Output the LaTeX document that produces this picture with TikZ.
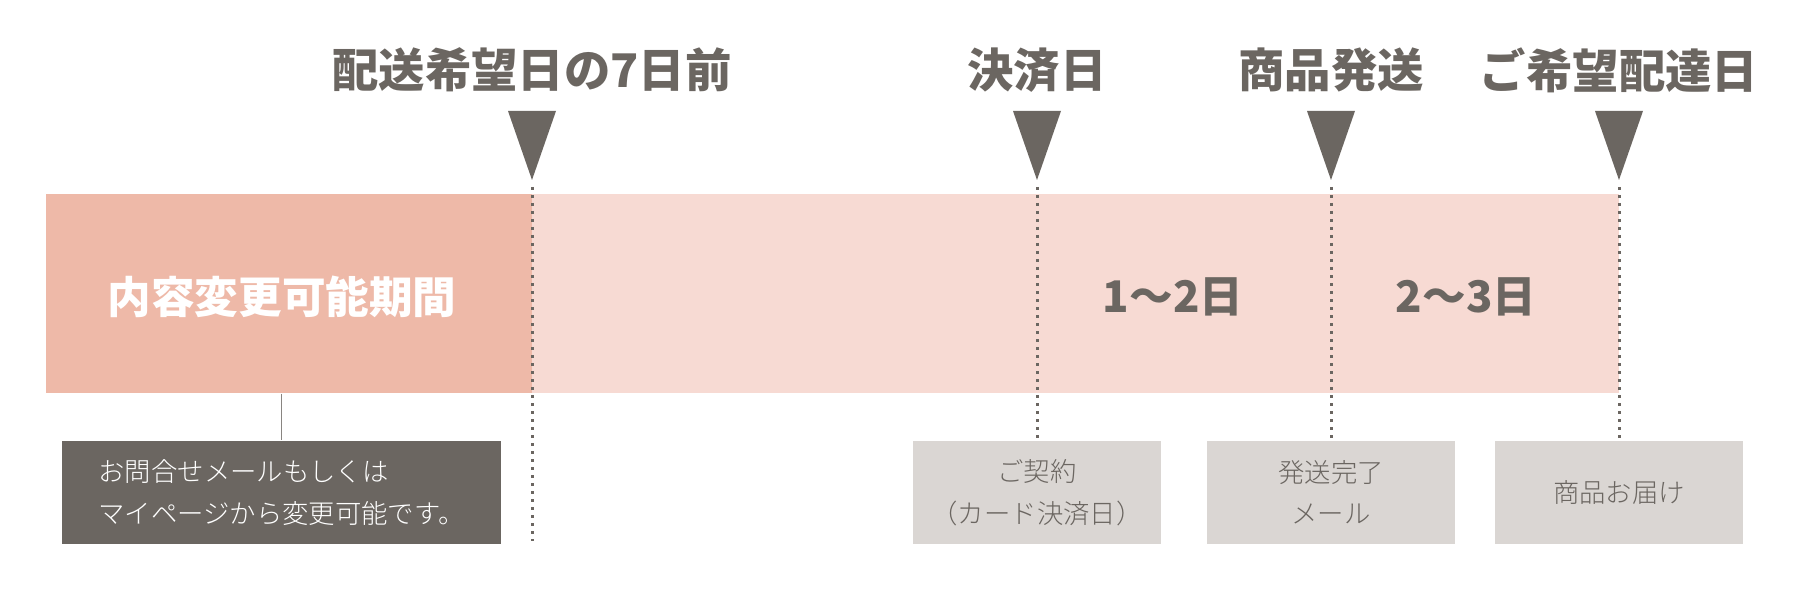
\documentclass[tikz,border=0pt]{standalone}
\usepackage{fontspec}
\usepackage{tikz}
\usetikzlibrary{positioning}
\newfontfamily\cjk{Noto Sans CJK JP}
\newfontfamily\cjklight{Noto Sans CJK JP Light}
\definecolor{ink}{HTML}{6B6661}
\definecolor{salmon}{HTML}{EEB9A8}
\definecolor{blush}{HTML}{F7DAD3}
\definecolor{stone}{HTML}{DAD6D3}

\begin{document}
\begin{tikzpicture}[font=\cjk, inner sep=0pt, node distance=0.43cm]
  \tikzstyle{title}=[text=ink, font=\cjk\bfseries\fontsize{13.2}{15}\selectfont]
  \tikzstyle{days}=[text=ink, font=\cjk\bfseries\fontsize{12.4}{14}\selectfont]
  \tikzstyle{period}=[text=white, font=\cjk\bfseries\fontsize{12.4}{14}\selectfont]
  \tikzstyle{memo}=[fill=stone, text=ink, minimum width=2.48cm, minimum height=1.03cm,
                    align=center, font=\cjklight\fontsize{7.5}{11.8}\selectfont]
  \tikzstyle{note}=[memo, fill=ink, text=white, minimum width=4.39cm, align=left]
  \tikzstyle{tri}=[fill=ink]
  \tikzstyle{dots}=[ink, line width=0.03cm, dash pattern=on 0.03cm off 0.05cm]

  \useasboundingbox (0,0) rectangle (18,6);

  \node[fill=blush, minimum width=10.87cm, minimum height=1.99cm] (wait) at (10.755,3.065) {};
  \node[fill=salmon, minimum width=4.86cm, minimum height=1.99cm] (change) at (2.89,3.065) {};
  \node[period] (ptext) at (2.82,3.03) {内容変更可能期間};
  \node[days]   (d12)   at (11.73,3.03) {1〜2日};
  \node[days]   (d23)   at (14.66,3.03) {2〜3日};

  % markers
  \coordinate (t1) at (5.32,4.20);
  \coordinate (t2) at (10.37,4.20);
  \coordinate (t3) at (13.31,4.20);
  \coordinate (t4) at (16.19,4.20);
  \fill[tri] (t1) -- ++(-0.24,0.69) -- ++(0.48,0) -- cycle;
  \fill[tri] (t2) -- ++(-0.24,0.69) -- ++(0.48,0) -- cycle;
  \fill[tri] (t3) -- ++(-0.24,0.69) -- ++(0.48,0) -- cycle;
  \fill[tri] (t4) -- ++(-0.24,0.69) -- ++(0.48,0) -- cycle;

  \node[title] (h1) at (5.32,5.30)  {配送希望日の7日前};
  \node[title] (h2) at (10.37,5.30) {決済日};
  \node[title] (h3) at (13.31,5.30) {商品発送};
  \node[title] (h4) at (16.19,5.30) {ご希望配達日};

  % boxes below
  \node[note] (n0) at (2.815,1.075) {お問合せメールもしくは\\マイページから変更可能です。};
  \node[memo] (n1) at (10.37,1.075) {ご契約\\（カード決済日）};
  \node[memo] (n2) at (13.31,1.075) {発送完了\\メール};
  \node[memo] (n3) at (16.19,1.075) {商品お届け};

  \coordinate (e1) at (5.32,0.59);
  \draw[dots, shorten <=0.07cm] (t1) -- (e1);
  \draw[dots, shorten <=0.07cm] (t2) -- (n1.north);
  \draw[dots, shorten <=0.07cm] (t3) -- (n2.north);
  \draw[dots, shorten <=0.07cm] (t4) -- (n3.north);
  \draw[ink!80, line width=0.015cm] (n0.north |- change.south) -- (n0.north);
\end{tikzpicture}
\end{document}
